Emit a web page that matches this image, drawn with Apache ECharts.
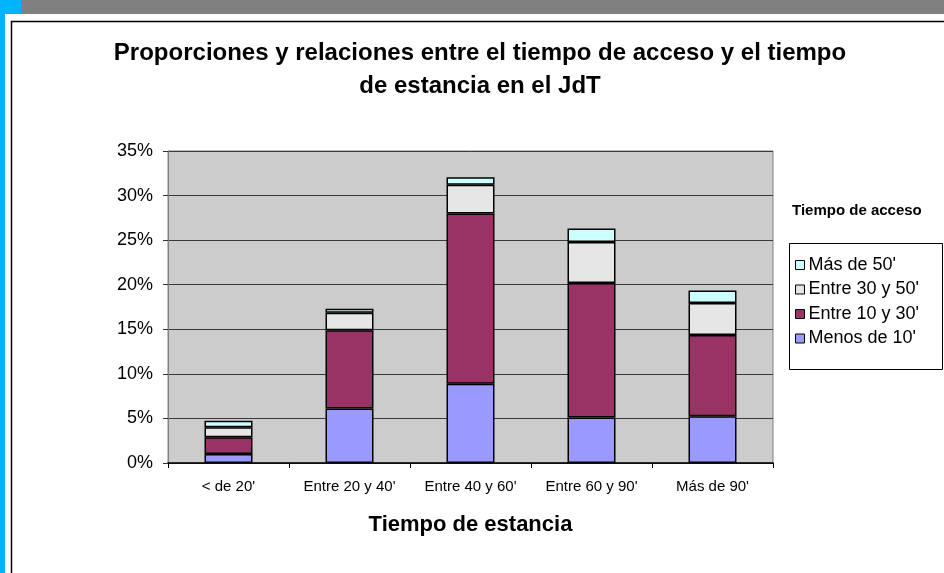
<!doctype html>
<html>
    <head>
        <meta charset="utf-8">
        <style>
            html, body { margin: 0; padding: 0; background: #fff; }
            #main { width: 944px; height: 573px; }
        </style>
    </head>
    <body>
        <div id="main"></div>
        <script src="https://cdn.jsdelivr.net/npm/echarts@6/dist/echarts.min.js"></script>
        <script>
            // categories (tiempo de estancia)
            var categories = ['< de 20\'', 'Entre 20 y 40\'', 'Entre 40 y 60\'', 'Entre 60 y 90\'', 'Más de 90\''];
            // stacked values, % of total, bottom to top
            var menos10 = [1.0, 6.1, 8.9, 5.1, 5.25];
            var entre10y30 = [1.9, 8.8, 19.1, 15.1, 9.1];
            var entre30y50 = [1.1, 1.95, 3.2, 4.6, 3.6];
            var mas50 = [0.75, 0.45, 0.85, 1.5, 1.4];
            var yTicks = [0, 5, 10, 15, 20, 25, 30, 35];

            var chart = echarts.init(document.getElementById('main'));

            var FONT = 'Liberation Sans, Arial, sans-serif';

            function bar(name, data, color) {
                return {
                    name: name,
                    type: 'bar',
                    stack: 'total',
                    barWidth: 48,
                    data: data,
                    itemStyle: {
                        color: color,
                        borderColor: '#000',
                        borderWidth: 1.5
                    }
                };
            }

            chart.setOption({
                animation: false,
                title: [{
                    text: 'Proporciones y relaciones entre el tiempo de acceso y el tiempo\nde estancia en el JdT',
                    left: 480,
                    top: 37,
                    padding: 0,
                    textAlign: 'center',
                    textStyle: {
                        fontFamily: FONT,
                        fontSize: 24,
                        fontWeight: 'bold',
                        lineHeight: 33,
                        color: '#000'
                    }
                }, {
                    text: 'Tiempo de acceso',
                    left: 792,
                    top: 203,
                    padding: 0,
                    textStyle: {
                        fontFamily: FONT,
                        fontSize: 15,
                        fontWeight: 'bold',
                        color: '#000'
                    }
                }],
                legend: {
                    orient: 'vertical',
                    left: 790,
                    top: 243,
                    padding: [13, 5, 14, 5],
                    itemGap: 6.5,
                    itemWidth: 9,
                    itemHeight: 9,
                    icon: 'rect',
                    data: ['Más de 50\'', 'Entre 30 y 50\'', 'Entre 10 y 30\'', 'Menos de 10\''],
                    itemStyle: { borderColor: '#000', borderWidth: 1 },
                    textStyle: {
                        fontFamily: FONT,
                        fontSize: 18,
                        color: '#000',
                        padding: [0, 0, 0, -1]
                    }
                },
                graphic: [
                    { type: 'rect', shape: { x: 0, y: 0, width: 5, height: 573 }, style: { fill: '#00b4ff' } },
                    { type: 'rect', shape: { x: 0, y: 0, width: 21, height: 14 }, style: { fill: '#00b4ff' } },
                    { type: 'rect', shape: { x: 21, y: 0, width: 923, height: 14 }, style: { fill: '#808080' } },
                    { type: 'rect', shape: { x: 11.5, y: 21.5, width: 1000, height: 1000 }, style: { fill: null, stroke: '#000', lineWidth: 1.5 } },
                    { type: 'rect', shape: { x: 789.5, y: 243.5, width: 153, height: 126 }, style: { fill: null, stroke: '#000', lineWidth: 1 } }
                ],
                grid: {
                    left: 168,
                    right: 171,
                    top: 151,
                    bottom: 110,
                    show: true,
                    backgroundColor: '#cccccc',
                    borderColor: '#808080',
                    borderWidth: 1
                },
                xAxis: {
                    type: 'category',
                    data: categories,
                    name: 'Tiempo de estancia',
                    nameLocation: 'middle',
                    nameGap: 51,
                    nameTextStyle: {
                        fontFamily: FONT,
                        fontSize: 22,
                        fontWeight: 'bold',
                        color: '#000'
                    },
                    axisLine: { lineStyle: { color: '#000', width: 1.5 } },
                    axisTick: { show: true, length: 5, lineStyle: { color: '#000' } },
                    axisLabel: {
                        fontFamily: FONT,
                        fontSize: 15,
                        color: '#000',
                        margin: 16,
                        interval: 0
                    }
                },
                yAxis: {
                    type: 'value',
                    min: yTicks[0],
                    max: yTicks[yTicks.length - 1],
                    interval: 5,
                    axisLine: { show: true, lineStyle: { color: '#808080' } },
                    axisTick: { show: true, length: 5, lineStyle: { color: '#333' } },
                    splitLine: { lineStyle: { color: '#3a3a3a', width: 1 } },
                    axisLabel: {
                        fontFamily: FONT,
                        fontSize: 18,
                        color: '#000',
                        margin: 15,
                        formatter: '{value}%'
                    }
                },
                series: [
                    bar('Menos de 10\'', menos10, '#9999ff'),
                    bar('Entre 10 y 30\'', entre10y30, '#993366'),
                    bar('Entre 30 y 50\'', entre30y50, '#e6e6e6'),
                    bar('Más de 50\'', mas50, '#ccffff')
                ]
            });

            window.addEventListener('resize', function () {
                chart.resize();
            });
        </script>
    </body>
</html>
